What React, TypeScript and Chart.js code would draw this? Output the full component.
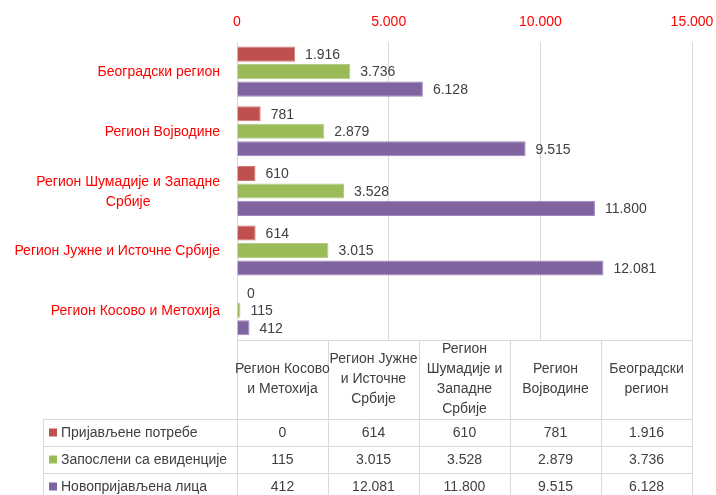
import React, { useEffect, useRef } from "react";
import { Chart, registerables } from "chart.js";

Chart.register(...registerables);

// ---- data (table order, as in the Excel data table) ----
const categories = [
  "Регион Косово и Метохија",
  "Регион Јужне и Источне Србије",
  "Регион Шумадије и Западне Србије",
  "Регион Војводине",
  "Београдски регион",
];
const axisLabelLines = [
  ["Регион Косово и Метохија"],
  ["Регион Јужне и Источне Србије"],
  ["Регион Шумадије и Западне", "Србије"],
  ["Регион Војводине"],
  ["Београдски регион"],
];
const headerLabelLines = [
  ["Регион Косово", "и Метохија"],
  ["Регион Јужне", "и Источне", "Србије"],
  ["Регион", "Шумадије и", "Западне", "Србије"],
  ["Регион", "Војводине"],
  ["Београдски", "регион"],
];
const seriesNames = ["Пријављене потребе", "Запослени са евиденције", "Новопријављена лица"];
const prijavljenePotrebe = [0, 614, 610, 781, 1916];
const zaposleniSaEvidencije = [115, 3015, 3528, 2879, 3736];
const novoprijavljenaLica = [412, 12081, 11800, 9515, 6128];
const seriesColors = ["#C0504D", "#9BBB59", "#8064A2"];
const seriesBorders = ["#D07A78", "#B3CC86", "#9C86B8"];
const xTicks = [0, 5000, 10000, 15000];

const seriesValues = [prijavljenePotrebe, zaposleniSaEvidencije, novoprijavljenaLica];

const FONT = "'Liberation Sans', Arial, sans-serif";
const TEXT = "#404040";
const GRID = "#D9D9D9";

const fmt = (v: number) => String(v).replace(/\B(?=(\d{3})+(?!\d))/g, ".");

// chart shows Belgrade at top: reverse table order
const rev = <T,>(a: T[]) => a.slice().reverse();

const dataLabelPlugin = {
  id: "dataLabels",
  afterDatasetsDraw(chart: any) {
    const ctx = chart.ctx;
    ctx.save();
    ctx.font = `14px ${FONT}`;
    ctx.fillStyle = TEXT;
    ctx.textAlign = "left";
    ctx.textBaseline = "middle";
    chart.data.datasets.forEach((ds: any, di: number) => {
      const meta = chart.getDatasetMeta(di);
      meta.data.forEach((el: any, i: number) => {
        ctx.fillText(fmt(ds.data[i]), el.x + 10, el.y + 1);
      });
    });
    ctx.restore();
  },
};

const categoryLabelPlugin = {
  id: "categoryLabels",
  afterDraw(chart: any) {
    const ctx = chart.ctx;
    const y = chart.scales.y;
    const labelRight = chart.chartArea.left - 17;
    const lines = rev(axisLabelLines);
    ctx.save();
    ctx.font = `14px ${FONT}`;
    ctx.fillStyle = "#FF0000";
    ctx.textAlign = "center";
    ctx.textBaseline = "middle";
    lines.forEach((ls, i) => {
      const cy = y.getPixelForValue(i);
      const w = Math.max(...ls.map((l) => ctx.measureText(l).width));
      const cx = labelRight - w / 2;
      ls.forEach((l, j) => {
        ctx.fillText(l, cx, cy + (j - (ls.length - 1) / 2) * 20 + 1);
      });
    });
    ctx.restore();
  },
};

const tablePlugin = {
  id: "dataTable",
  afterDraw(chart: any) {
    const ctx = chart.ctx;
    const { left, right, bottom } = chart.chartArea;
    const n = categories.length;
    const colW = (right - left) / n;
    const headerH = 79;
    const rowH = 27;
    const legendLeft = left - 194;
    const tableBottom = bottom + headerH + rowH * seriesNames.length;
    ctx.save();
    ctx.strokeStyle = GRID;
    ctx.lineWidth = 1;
    const h = (x1: number, x2: number, yy: number) => {
      ctx.beginPath();
      ctx.moveTo(x1, Math.round(yy) + 0.5);
      ctx.lineTo(x2, Math.round(yy) + 0.5);
      ctx.stroke();
    };
    const v = (xx: number, y1: number, y2: number) => {
      ctx.beginPath();
      ctx.moveTo(Math.round(xx) + 0.5, y1);
      ctx.lineTo(Math.round(xx) + 0.5, y2);
      ctx.stroke();
    };
    h(left, right, bottom);
    for (let r = 0; r <= seriesNames.length; r++) {
      h(legendLeft, right, bottom + headerH + r * rowH);
    }
    for (let c = 0; c <= n; c++) v(left + c * colW, bottom, tableBottom);
    v(legendLeft, bottom + headerH, tableBottom);

    ctx.font = `14px ${FONT}`;
    ctx.fillStyle = TEXT;
    ctx.textAlign = "center";
    ctx.textBaseline = "middle";
    headerLabelLines.forEach((ls, c) => {
      const cx = left + (c + 0.5) * colW;
      const cy = bottom + headerH / 2;
      ls.forEach((l, j) => {
        ctx.fillText(l, cx, cy + (j - (ls.length - 1) / 2) * 20);
      });
    });
    seriesNames.forEach((name, r) => {
      const cy = bottom + headerH + (r + 0.5) * rowH;
      ctx.fillStyle = seriesColors[r];
      ctx.fillRect(legendLeft + 6, cy - 4, 8, 8);
      ctx.fillStyle = TEXT;
      ctx.textAlign = "left";
      ctx.fillText(name, legendLeft + 18, cy + 1);
      ctx.textAlign = "center";
      seriesValues[r].forEach((val, c) => {
        ctx.fillText(fmt(val), left + (c + 0.5) * colW, cy + 1);
      });
    });
    ctx.restore();
  },
};

export default function App() {
  const ref = useRef<HTMLCanvasElement>(null);
  useEffect(() => {
    const chart = new Chart(ref.current!, {
      type: "bar",
      data: {
        labels: rev(categories),
        datasets: seriesNames.map((name, i) => ({
          label: name,
          data: rev(seriesValues[i]),
          backgroundColor: seriesColors[i],
          borderColor: seriesBorders[i],
          borderWidth: 1,
          categoryPercentage: 0.88,
          barPercentage: 0.86,
        })),
      },
      options: {
        indexAxis: "y",
        animation: false,
        responsive: false,
        maintainAspectRatio: false,
        layout: { padding: { left: 237, right: 24, top: 3, bottom: 155 } },
        plugins: { legend: { display: false }, tooltip: { enabled: false } },
        scales: {
          x: {
            position: "top",
            min: xTicks[0],
            max: xTicks[xTicks.length - 1],
            afterBuildTicks: (s: any) => {
              s.ticks = xTicks.map((v) => ({ value: v }));
            },
            afterFit: (s: any) => {
              s.paddingLeft = 0;
              s.paddingRight = 0;
            },
            ticks: {
              color: "#FF0000",
              font: { family: FONT, size: 14 },
              padding: 11,
              callback: (v: any) => fmt(Number(v)),
            },
            grid: { color: GRID, drawTicks: false, lineWidth: 1 },
            border: { display: false },
          },
          y: {
            display: false,
          },
        },
      },
      plugins: [dataLabelPlugin, categoryLabelPlugin, tablePlugin],
    });
    return () => chart.destroy();
  }, []);
  return (
    <div style={{ position: "fixed", left: 0, top: 0, width: 716, height: 495, background: "#fff" }}>
      <canvas ref={ref} width={716} height={495} style={{ display: "block" }} />
    </div>
  );
}
